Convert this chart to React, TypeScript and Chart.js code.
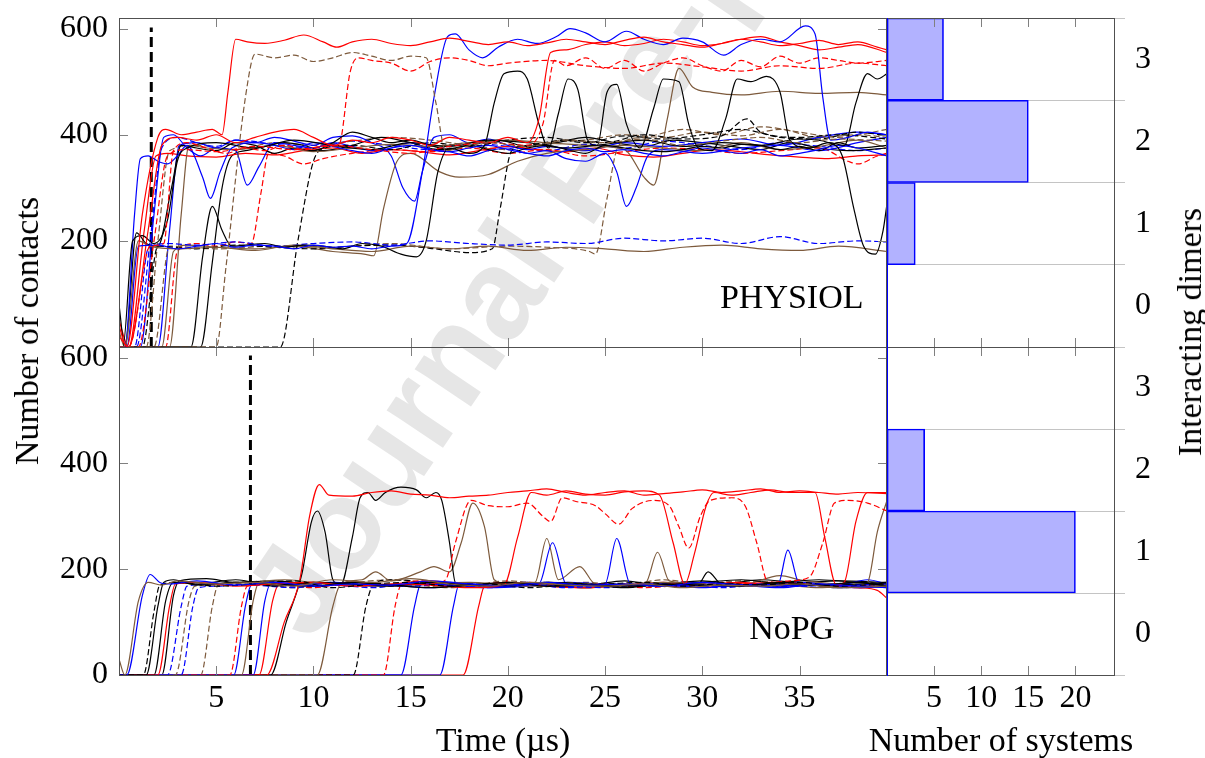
import React, { useEffect, useRef } from "react";
import { Chart, registerables } from "chart.js";
Chart.register(...registerables);

// ---------- axis values ----------
const timeTicks = [5, 10, 15, 20, 25, 30, 35];
const contactTicksTop = [200, 400, 600];
const contactTicksBottom = [0, 200, 400, 600];
const systemTicks = [5, 10, 15, 20];
const dimerLabels = ["3", "2", "1", "0"];
const physiolSystems = [6, 15, 3, 0];
const nopgSystems = [0, 4, 20, 0];
const physiolEquilibration = [1.66, 0, 1.66, 602];
const nopgEquilibration = [6.76, 0, 6.76, 604];

// ---------- PHYSIOL trajectories: [time, contacts, ...] ----------
const physiol01 = [0,40, 0.4,0, 1.2,250, 2.0,395, 2.4,410, 3.2,400, 4.0,405, 4.8,410, 5.3,400, 5.6,480, 6.0,580, 6.6,575, 7.5,572, 8.5,578, 9.5,588, 10.5,575, 11.2,565, 12,575, 13,580, 14,572, 15,568, 16,575, 17,582, 18,576, 19,570, 20,575, 21,568, 22,573, 23,580, 24,575, 25,570, 26,578, 27,584, 28,575, 29,570, 30,565, 31,572, 32,580, 33,575, 34,568, 35,572, 36,578, 37,570, 38,575, 39,565, 39.5,560];
const physiol02 = [0,0, 5.0,0, 5.5,150, 6.5,470, 7.0,552, 8,545, 9,550, 10,538, 11,545, 12,555, 13,548, 14,540, 15,548, 15.8,545, 16.3,460, 16.8,370, 17.5,375, 19,385, 21,378, 23,390, 25,385, 27,392, 29,380, 31,388, 33,395, 35,385, 37,392, 39.5,388];
const physiol03 = [0,0, 0.5,0, 1.6,190, 2.3,195, 2.8,370, 3.5,385, 4.5,375, 5.5,365, 6.5,375, 7.5,370, 8.5,380, 9.5,372, 10.5,378, 11.3,380, 11.9,520, 12.3,545, 13,540, 14,535, 15,520, 16,538, 17,545, 18,540, 19,530, 20,535, 22,540, 24,530, 26,525, 28,535, 30,528, 32,520, 34,530, 36,525, 38,535, 39.5,530];
const physiol04 = [0,0, 0.4,0, 1.0,190, 2,192, 3,185, 4,190, 5,195, 6,188, 7,192, 8,190, 9,185, 10,192, 11,188, 12,190, 13,185, 14,190, 14.8,195, 15.6,330, 16.2,470, 16.9,585, 17.3,590, 18,560, 18.7,545, 19.5,565, 20.5,580, 21.5,572, 22.5,585, 23.2,600, 24,592, 25,575, 26.1,595, 27,580, 28,570, 29,582, 30,575, 31.1,550, 32,570, 33,580, 34,575, 35.3,605, 35.8,590, 36.2,470, 36.6,390, 37.5,395, 38.5,405, 39.5,400];
const physiol05 = [0,20, 0.5,0, 1.5,220, 2.2,380, 3,395, 4,390, 5,400, 6,385, 7,395, 8,405, 9,410, 10,395, 11,380, 12,390, 13,385, 14,395, 15,390, 16,380, 17,395, 18,390, 19,385, 20,395, 21,385, 21.6,430, 22.2,555, 23,560, 24,570, 25,575, 26,568, 27,572, 28,580, 29,575, 30,568, 31,572, 32,580, 33,585, 34,575, 35,568, 36,560, 37,565, 38,570, 39.5,555];
const physiol06 = [0,0, 1.0,0, 1.8,200, 2.5,360, 3.5,372, 5,368, 7,378, 9,372, 11,380, 13,372, 15,365, 17,378, 19,385, 21,380, 21.8,420, 22.4,540, 23,530, 24,545, 25,525, 26,540, 27,520, 28,535, 29,545, 30,530, 31,520, 32,540, 33,528, 34,548, 35,535, 36,545, 37,540, 38,535, 39.5,540];
const physiol07 = [0,0, 3.7,0, 4.3,170, 4.8,265, 5.3,220, 5.8,190, 6.5,192, 7.5,195, 8.5,188, 9.5,192, 10.5,190, 11.5,185, 12.5,195, 13.5,190, 14.5,175, 15.3,170, 15.8,200, 16.4,330, 17,375, 18,365, 18.8,380, 19.3,460, 19.8,515, 20.5,520, 21,505, 21.6,420, 22.1,375, 22.6,440, 23.1,505, 23.6,485, 24.1,390, 24.6,380, 25.1,480, 25.6,495, 26.1,420, 26.8,375, 27.5,450, 28,505, 28.8,500, 29.3,420, 29.8,375, 30.5,370, 31.2,430, 31.8,505, 32.5,500, 33.3,510, 34,480, 34.5,390, 35.5,375, 36.5,385, 37.3,380, 37.9,460, 38.5,515, 39,505, 39.5,515];
const physiol08 = [0,0, 0.2,0, 0.7,200, 1.2,210, 1.8,195, 2.5,240, 3,350, 3.5,375, 5,385, 7,375, 9,390, 11,380, 13,372, 15,385, 17,378, 19,390, 21,385, 23,375, 25,382, 27,390, 29,378, 31,385, 33,380, 35,392, 36.5,385, 37.2,360, 37.8,260, 38.3,190, 38.9,175, 39.3,220, 39.5,270];
const physiol09 = [0,30, 0.3,0, 1.0,200, 1.6,190, 3,185, 5,188, 7,182, 9,192, 11,185, 13,180, 15,190, 17,185, 19,190, 21,182, 23,188, 25,185, 27,180, 29,188, 31,192, 33,185, 35,182, 37,190, 39.5,180];
const physiol10 = [0,0, 0.8,0, 1.5,185, 2.5,195, 4,192, 6,198, 8,190, 10,195, 12,198, 14,192, 16,200, 18,195, 20,192, 22,198, 24,195, 26,205, 28,200, 30,205, 32,195, 34,208, 36,195, 38,200, 39.5,198];
const physiol11 = [0,0, 0.3,0, 0.8,250, 1.1,355, 1.5,360, 2,350, 2.5,345, 3,360, 3.5,380, 4.3,320, 4.7,280, 5.2,330, 5.8,375, 7,385, 8,380, 9,372, 10,385, 11,378, 12,370, 13,365, 14,375, 15,380, 16,372, 17,368, 18,375, 19,380, 20,372, 21,365, 22,360, 23,370, 24,375, 25,368, 26,372, 27,365, 28,360, 29,368, 30,375, 31,370, 32,365, 33,372, 34,360, 35,365, 36,372, 37,380, 38,375, 39.5,360];
const physiol12 = [0,80, 0.3,0, 0.9,215, 1.4,195, 2.0,190, 2.7,300, 3.2,380, 4,375, 5,370, 6,385, 7,380, 8,365, 9,375, 10,370, 11,385, 12,405, 13,395, 14,385, 15,390, 16,380, 17,372, 18,380, 19,372, 20,365, 21,375, 22,380, 23,372, 24,365, 25,380, 26,375, 27,370, 28,368, 29,372, 30,378, 31,375, 32,382, 33,380, 34,372, 35,378, 36,370, 37,385, 38,375, 39.5,380];
const physiol13 = [0,0, 2.6,0, 3.2,250, 3.6,380, 4.5,375, 6,372, 8,380, 10,368, 12,375, 14,382, 16,378, 18,385, 20,390, 22,385, 24,380, 26,372, 27,320, 27.5,305, 28.2,430, 28.8,525, 29.5,490, 30.5,480, 32,475, 34,482, 36,478, 38,480, 39.5,475];
const physiol14 = [0,0, 8.3,0, 9.2,200, 10.0,350, 10.6,375, 12,380, 14,372, 16,385, 18,378, 20,390, 22,395, 24,385, 26,398, 28,392, 30,400, 32,410, 34,395, 36,392, 38,405, 39.5,398];
const physiol15 = [0,0, 1.2,0, 2.0,190, 4,185, 6,192, 8,188, 10,185, 12,190, 14,192, 16,186, 18,178, 19.2,185, 19.6,260, 20.2,370, 21,380, 23,390, 25,385, 27,400, 29,392, 31,398, 32.3,430, 33,405, 35,395, 37,400, 39.5,392];
const physiol16 = [0,0, 1.8,0, 2.6,190, 5,185, 8,190, 11,188, 14,195, 17,185, 20,190, 22,188, 24.2,180, 24.5,175, 25.1,280, 25.7,380, 27,395, 29,410, 31,400, 33,415, 35,405, 37,395, 39.5,410];
const physiol17 = [0,0, 2.2,0, 2.8,180, 3.5,192, 5,188, 7,185, 9,190, 11,180, 12.6,175, 13.1,172, 13.6,260, 14.3,350, 15,365, 16.5,330, 17.5,320, 19,325, 20.5,350, 22,365, 24,372, 26,380, 28,375, 30,370, 32,385, 34,372, 36,378, 38,390, 39.5,375];
const physiol18 = [0,0, 1.1,0, 1.8,250, 2.3,395, 2.8,400, 3.5,375, 4.2,360, 5,375, 6,370, 6.6,305, 7.2,340, 8,385, 9,380, 10,375, 11,385, 12,378, 13,370, 14,375, 15,385, 16,372, 17,368, 18,360, 19,370, 20,375, 21,365, 22,370, 23,355, 24,350, 25,365, 25.6,330, 26.1,265, 26.6,300, 27.2,360, 28,372, 30,365, 32,375, 34,380, 36,370, 38,385, 39.5,395];
const physiol19 = [0,0, 2.0,0, 2.6,220, 3.1,380, 4,385, 5,375, 6,390, 7,385, 8,395, 9,388, 10,380, 11,395, 12,398, 13,385, 14,360, 14.6,300, 15.2,275, 15.6,330, 16.2,395, 17,400, 18,385, 19,392, 20,380, 21,372, 22,378, 24,370, 26,385, 28,378, 30,385, 32,392, 34,380, 36,395, 38,405, 39.5,400];
const physiol20 = [0,0, 2.4,0, 3.0,180, 4,195, 5,190, 6,198, 6.8,195, 7.3,290, 7.7,365, 8.5,360, 9.5,345, 10.5,355, 12,365, 14,372, 16,368, 18,375, 20,365, 22,372, 24,360, 26,368, 28,375, 30,372, 32,365, 34,370, 36,375, 37.5,350, 38,345, 39,360, 39.5,365];
const physiol21 = [0,50, 0.5,0, 1.3,220, 1.9,360, 2.5,365, 3.5,360, 5,358, 6.5,365, 8,362, 9.5,370, 11,375, 12.5,365, 14,372, 15.5,368, 17,362, 18.5,370, 20,378, 21.5,372, 23,368, 24.5,375, 26,362, 27.5,358, 29,365, 30.5,372, 32,368, 33.5,362, 35,358, 36.5,355, 38,360, 39.5,362];
const physiol22 = [0,0, 4.2,0, 4.8,160, 5.3,300, 5.8,360, 6.5,370, 7.5,378, 8.5,385, 9.5,380, 10.5,370, 12,380, 13.5,395, 15,385, 16.5,372, 18,380, 19.5,390, 21,378, 22.5,385, 24,395, 25.5,385, 27,378, 28.5,390, 30,385, 31.5,378, 33,372, 34.5,385, 36,375, 37.5,370, 39.5,375];
const physiol23 = [0,0, 1.4,0, 2.0,200, 2.6,370, 4,380, 6,372, 8,385, 10,380, 12,388, 14,395, 16,390, 18,380, 20,372, 22,385, 24,390, 26,400, 28,395, 30,405, 32,398, 34,410, 36,395, 38,400, 39.5,395];
const physiol24 = [0,0, 0.9,0, 1.6,200, 2.2,375, 3,395, 4,385, 5,378, 6,390, 8,382, 10,375, 12,388, 14,380, 16,372, 18,385, 20,378, 22,370, 24,382, 26,375, 28,388, 30,380, 32,372, 34,385, 36,378, 38,370, 39.5,375];

// ---------- NoPG trajectories ----------
const nopg01 = [0,30, 0.3,0, 1.0,140, 1.5,175, 2.2,170, 3,178, 5,172, 7,175, 9,168, 11,180, 13,175, 15,182, 17,172, 19,168, 21,175, 23,170, 25,168, 27,172, 29,165, 31,170, 33,168, 35,172, 37,165, 39.5,168];
const nopg02 = [0,0, 0.4,0, 1.2,150, 1.6,190, 2.1,175, 2.6,172, 4,178, 6,170, 8,175, 10,168, 12,172, 14,170, 16,178, 18,172, 20,168, 22,175, 24,170, 26,172, 28,168, 30,175, 32,170, 34,165, 36,172, 38,168, 39.5,165];
const nopg03 = [0,0, 1.25,0, 1.8,120, 2.1,170, 3,175, 5,168, 7,172, 9,178, 11,165, 13,172, 15,175, 17,168, 19,172, 21,165, 23,170, 25,172, 27,175, 29,168, 31,172, 33,170, 35,175, 37,168, 39.5,172];
const nopg04 = [0,0, 1.4,0, 2.0,130, 2.3,175, 2.8,180, 4,170, 6,175, 8,172, 10,168, 12,175, 14,170, 16,165, 18,170, 20,175, 22,168, 24,170, 26,165, 28,172, 30,170, 32,168, 34,175, 36,170, 38,175, 39.5,168];
const nopg05 = [0,0, 2.0,0, 2.6,130, 2.9,172, 4,175, 6,168, 8,172, 10,175, 12,168, 14,172, 16,170, 18,165, 19.8,170, 20.5,260, 21.2,345, 22,340, 23,348, 24,342, 25,340, 26,346, 27,348, 27.8,340, 28.5,250, 29.1,172, 29.6,230, 30.2,320, 30.6,345, 31.5,340, 32.5,345, 33.5,350, 34.5,345, 35.8,345, 36.3,260, 36.9,170, 37.3,175, 37.9,290, 38.5,345, 39.5,345];
const nopg06 = [0,0, 1.8,0, 2.4,140, 2.8,175, 4,172, 6,180, 8,168, 10,175, 12,172, 14,168, 16,175, 18,170, 20,168, 22,175, 24,172, 26,168, 28,170, 30,175, 32,180, 34,172, 36,170, 38,172, 39.5,175];
const nopg07 = [0,0, 2.5,0, 3.2,130, 3.5,168, 5,172, 7,170, 9,165, 11,175, 13,170, 15,168, 17,172, 19,165, 21,170, 23,168, 25,165, 27,172, 29,170, 31,168, 33,172, 35,168, 37,170, 39.5,172];
const nopg08 = [0,0, 2.9,0, 3.6,140, 3.9,168, 5,170, 7,175, 9,165, 11,172, 13,168, 15,170, 17,165, 19,172, 21,168, 23,175, 25,170, 27,168, 29,172, 31,170, 33,168, 35,172, 37,165, 39.5,170];
const nopg09 = [0,0, 3.2,0, 3.8,130, 4.1,165, 5,168, 7,172, 9,168, 11,170, 13,165, 15,172, 17,170, 19,168, 21,172, 23,165, 25,170, 27,168, 29,172, 31,165, 33,170, 35,168, 37,172, 39.5,168];
const nopg10 = [0,0, 5.7,0, 6.3,130, 6.6,168, 8,172, 10,165, 12,175, 14,170, 16,172, 16.8,180, 17.3,250, 18.1,330, 19,320, 20,318, 21,325, 21.8,300, 22.2,290, 22.8,335, 23.5,328, 24.5,320, 25,305, 25.7,285, 26.4,315, 27.5,330, 28.3,320, 28.8,280, 29.3,240, 29.9,300, 30.4,330, 31.5,335, 32.2,320, 32.8,250, 33.4,175, 34.5,178, 35.5,185, 36.2,250, 36.8,325, 37.5,330, 38.5,325, 39.5,310];
const nopg11 = [0,0, 5.9,0, 6.5,130, 6.8,170, 8,175, 10,168, 12,172, 14,170, 16,165, 18,172, 20,170, 22,175, 24,168, 26,170, 28,172, 30,165, 32,170, 34,168, 36,172, 38,165, 39.5,168];
const nopg12 = [0,0, 6.3,0, 6.9,140, 7.2,175, 8.5,180, 10,175, 12,170, 14,168, 16,172, 18,175, 20,170, 22,168, 24,172, 26,170, 28,175, 30,172, 32,168, 34,170, 36,165, 38,172, 39.5,170];
const nopg13 = [0,0, 6.9,0, 7.5,140, 7.8,172, 9,170, 11,175, 13,168, 15,172, 17,170, 19,165, 21.6,172, 22.3,250, 23.0,172, 24,170, 25.0,172, 25.6,258, 26.3,172, 28,168, 30,172, 32,170, 33.9,172, 34.4,236, 35.0,172, 36,170, 38,168, 39.5,165];
const nopg14 = [0,0, 7.2,0, 7.9,140, 8.2,170, 10,175, 12,168, 14,172, 16,178, 18,170, 20,175, 22,168, 24,165, 26,170, 28,175, 30,168, 32,172, 34,175, 36,170, 38,165, 39,160, 39.5,145];
const nopg15 = [0,0, 7.6,0, 8.5,100, 9.3,180, 9.8,300, 10.3,360, 10.8,340, 12,338, 13,345, 14,348, 15,342, 16,340, 17,335, 18,338, 19,340, 20,345, 21,348, 22,352, 23,345, 24,340, 25,345, 26,348, 27,340, 28,343, 29,346, 30,350, 31,345, 32,348, 33,352, 34,345, 35,348, 36,345, 37,342, 38,345, 39.5,343];
const nopg16 = [0,0, 7.8,0, 8.6,100, 9.4,190, 9.9,290, 10.2,310, 10.6,270, 11.0,180, 11.4,170, 12.0,260, 12.4,335, 12.8,345, 13.2,330, 13.7,345, 14.5,355, 15.3,350, 15.8,335, 16.3,345, 16.6,330, 17.0,250, 17.3,175, 18,170, 20,172, 22,168, 24,165, 26,170, 28,172, 30,178, 32,170, 34,175, 36,180, 38,175, 39.5,172];
const nopg17 = [0,0, 10.2,0, 11.0,130, 11.4,172, 12.5,180, 13.2,195, 14,178, 15.5,195, 16.2,205, 17,195, 17.6,250, 18.2,325, 18.8,280, 19.3,180, 20,172, 21.4,175, 22,258, 22.6,180, 23.7,205, 24.5,172, 26,170, 27.1,175, 27.7,232, 28.3,178, 30,172, 32,170, 34,188, 35,180, 36,175, 38,170, 38.5,175, 39.0,270, 39.5,330];
const nopg18 = [0,0, 12.05,0, 12.7,130, 13.1,172, 14,180, 15,178, 16,170, 18,172, 20,168, 22,175, 24,170, 26,172, 28,168, 30,175, 32,172, 34,168, 36,170, 38,175, 39.5,172];
const nopg19 = [0,0, 13.6,0, 14.2,130, 14.5,170, 15.5,178, 17,172, 19,168, 21,175, 23,170, 25,172, 27,165, 29,170, 31,175, 33,170, 35,172, 37,168, 39.5,172];
const nopg20 = [0,0, 14.5,0, 15.2,130, 15.5,170, 17,175, 19,170, 21,168, 23,175, 25,172, 27,170, 29,168, 31,172, 33,170, 35,175, 37,170, 38.5,180, 39.5,172];
const nopg21 = [0,0, 16.5,0, 17.2,130, 17.5,172, 19,170, 21,175, 23,168, 25,172, 27,170, 29,175, 31,168, 33,170, 35,172, 37,165, 39.5,170];
const nopg22 = [0,0, 17.7,0, 18.5,130, 18.8,168, 20,172, 22,170, 24,165, 26,172, 28,168, 30,170, 32,175, 34,168, 36,172, 38,165, 39.5,168];
const nopg23 = [0,0, 2.2,0, 2.8,150, 3.1,178, 4.5,182, 6,175, 8,178, 10,172, 12,175, 14,170, 16,172, 18,168, 20,175, 22,172, 24,170, 26,178, 28,168, 29.8,172, 30.3,195, 31,172, 33,180, 35,175, 37,178, 39.5,175];
const nopg24 = [0,0, 4.2,0, 4.8,130, 5.1,170, 6,175, 8,178, 10,172, 12,175, 14,180, 16,172, 18,170, 20,178, 22,172, 24,175, 26,170, 28,180, 30,172, 32,178, 34,175, 36,170, 38,175, 39.5,172];

const physiolSeries = [physiol01, physiol02, physiol03, physiol04, physiol05, physiol06, physiol07, physiol08, physiol09, physiol10, physiol11, physiol12, physiol13, physiol14, physiol15, physiol16, physiol17, physiol18, physiol19, physiol20, physiol21, physiol22, physiol23, physiol24];
const nopgSeries = [nopg01, nopg02, nopg03, nopg04, nopg05, nopg06, nopg07, nopg08, nopg09, nopg10, nopg11, nopg12, nopg13, nopg14, nopg15, nopg16, nopg17, nopg18, nopg19, nopg20, nopg21, nopg22, nopg23, nopg24];

// ---------- styles (colour + dash code) ----------
const physiolKinds = ["r-", "n--", "r--", "b-", "r-", "r--", "k-", "k-", "n-", "b--", "b-", "k-", "n-", "k--", "k--", "n--", "n-", "b-", "b-", "r--", "r-", "k-", "n--", "b--"];
const nopgKinds = ["n-", "b-", "k--", "k-", "r-", "k-", "b--", "n--", "b--", "r--", "b-", "n-", "b-", "r-", "r-", "k-", "n-", "k--", "r--", "b-", "b-", "r-", "k-", "n--"];
const COLORS: Record<string, string> = { r: "#ff0000", b: "#0000ff", k: "#000000", n: "#7d5a3c" };

const FONT = "'Liberation Serif', 'Times New Roman', serif";
Chart.defaults.font.family = FONT;
Chart.defaults.font.size = 32;
Chart.defaults.color = "#000";
const TITLE_SIZE = 34;

const W = 1205, H = 758;
const PL = 119, PR = 887, HR = 1115, TOP = 18, MID = 347, BOT = 675;

function toPoints(a: number[]) {
  const p: { x: number; y: number }[] = [];
  for (let i = 0; i < a.length; i += 2) p.push({ x: a[i], y: a[i + 1] });
  return p;
}

function fixAxis(size: number, horizontal: boolean) {
  return (s: any) => {
    if (horizontal) s.height = size; else s.width = size;
    s.paddingTop = 0; s.paddingBottom = 0; s.paddingLeft = 0; s.paddingRight = 0;
  };
}

function setTicks(values: number[]) {
  return (s: any) => { s.ticks = values.map((v) => ({ value: v })); };
}

function framePlugin(o: { xTicks: number[]; yTicks: number[]; leftColor?: string; label?: string; labelAt?: number[]; watermark?: boolean; xTitle?: string }) {
  return {
    id: "frame",
    beforeDraw(chart: any) {
      if (!o.watermark) return;
      const ctx = chart.ctx;
      ctx.save();
      ctx.translate(311, 644);
      ctx.rotate((-56.05 * Math.PI) / 180);
      ctx.font = "bold 128px 'Liberation Sans', Arial, sans-serif";
      ctx.fillStyle = "#e6e6e6";
      ctx.textBaseline = "alphabetic";
      ctx.fillText("Journal Pre-proof", 0, 0);
      ctx.restore();
    },
    afterDatasetsDraw(chart: any) {
      const { ctx, chartArea: a } = chart;
      const xs = chart.scales.x, ys = chart.scales.y;
      const L = 9;
      ctx.save();
      ctx.lineWidth = 1;
      ctx.strokeStyle = "#808080";
      ctx.beginPath();
      o.xTicks.forEach((v) => {
        const px = Math.round(xs.getPixelForValue(v)) + 0.5;
        ctx.moveTo(px, a.top); ctx.lineTo(px, a.top + L);
        ctx.moveTo(px, a.bottom); ctx.lineTo(px, a.bottom - L);
      });
      o.yTicks.forEach((v) => {
        const py = Math.round(ys.getPixelForValue(v)) + 0.5;
        ctx.moveTo(a.left, py); ctx.lineTo(a.left + L, py);
        ctx.moveTo(a.right, py); ctx.lineTo(a.right - L, py);
      });
      ctx.stroke();
      ctx.strokeStyle = "#505050";
      ctx.strokeRect(a.left + 0.5, a.top + 0.5, a.right - a.left - 1, a.bottom - a.top);
      if (o.leftColor) {
        ctx.strokeStyle = o.leftColor;
        ctx.beginPath();
        ctx.moveTo(a.left + 0.5, a.top); ctx.lineTo(a.left + 0.5, a.bottom + 1);
        ctx.stroke();
      }
      ctx.fillStyle = "#000";
      ctx.textAlign = "center";
      ctx.textBaseline = "middle";
      ctx.font = `${TITLE_SIZE}px ${FONT}`;
      if (o.label && o.labelAt) {
        ctx.fillText(o.label, xs.getPixelForValue(o.labelAt[0]), ys.getPixelForValue(o.labelAt[1]));
      }
      if (o.xTitle) {
        ctx.fillText(o.xTitle, (a.left + a.right) / 2, 742);
      }
      ctx.restore();
    },
  };
}

function lineConfig(series: number[][], kinds: string[], cutoff: number[], top: boolean): any {
  const datasets: any[] = series.map((s, i) => {
    const k = kinds[i];
    return {
      data: toPoints(s),
      borderColor: COLORS[k[0]],
      borderWidth: 1.2,
      borderDash: k.length > 2 ? [6, 3] : [],
      pointRadius: 0,
      fill: false,
      cubicInterpolationMode: "monotone",
    };
  });
  datasets.push({ data: toPoints(cutoff), borderColor: "#000", borderWidth: 3, borderDash: [10, 5], pointRadius: 0, fill: false });
  const yTicks = top ? contactTicksTop : contactTicksBottom;
  return {
    type: "line",
    data: { datasets },
    options: {
      animation: false,
      responsive: false,
      events: [],
      layout: { padding: { left: 0, right: W - PR, top: top ? TOP : MID, bottom: top ? H - MID : 0 } },
      plugins: { legend: { display: false }, tooltip: { enabled: false } },
      scales: {
        x: {
          type: "linear", min: 0, max: 39.5, display: !top,
          grid: { display: false, drawTicks: false }, border: { display: false },
          ticks: { padding: 4, autoSkip: false, maxRotation: 0 },
          afterBuildTicks: setTicks(timeTicks),
          title: { display: false },
          afterFit: fixAxis(top ? 0 : H - BOT, true),
        },
        y: {
          type: "linear", min: 0, max: 620,
          grid: { display: false, drawTicks: false }, border: { display: false },
          ticks: { padding: 11, autoSkip: false },
          afterBuildTicks: setTicks(yTicks),
          afterFit: fixAxis(PL, false),
        },
      },
    },
    plugins: [framePlugin({ xTicks: timeTicks, yTicks, label: top ? "PHYSIOL" : "NoPG", labelAt: top ? [34.6, 90] : [34.6, 85], watermark: top, xTitle: top ? undefined : "Time (\u00b5s)" })],
  };
}

function histConfig(values: number[], top: boolean): any {
  return {
    type: "bar",
    data: {
      labels: dimerLabels,
      datasets: [{ data: values, backgroundColor: "rgba(0,0,255,0.3)", borderColor: "#0000ff", borderWidth: 1, borderSkipped: false, barPercentage: 1, categoryPercentage: 1 }],
    },
    options: {
      indexAxis: "y",
      animation: false,
      responsive: false,
      events: [],
      layout: { padding: { left: PR, right: 0, top: top ? TOP : MID, bottom: top ? H - MID : 0 } },
      plugins: { legend: { display: false }, tooltip: { enabled: false } },
      scales: {
        x: {
          type: "linear", min: 0, max: 24.2, display: !top,
          grid: { display: false, drawTicks: false }, border: { display: false },
          ticks: { padding: 4, autoSkip: false, maxRotation: 0 },
          afterBuildTicks: setTicks(systemTicks),
          title: { display: false },
          afterFit: fixAxis(top ? 0 : H - BOT, true),
        },
        y: {
          type: "category", position: "right",
          grid: { display: true, offset: true, color: "#c4c4c4", drawTicks: true, tickLength: 10 },
          border: { display: false },
          ticks: { padding: 10, autoSkip: false },
          afterFit: fixAxis(W - HR, false),
        },
      },
    },
    plugins: [framePlugin({ xTicks: systemTicks, yTicks: [], leftColor: "#0000ff", xTitle: top ? undefined : "Number of systems" })],
  };
}

const canvasStyle: React.CSSProperties = { position: "absolute", left: 0, top: 0, width: W, height: H };

export default function App() {
  const r1 = useRef<HTMLCanvasElement>(null);
  const r2 = useRef<HTMLCanvasElement>(null);
  const r3 = useRef<HTMLCanvasElement>(null);
  const r4 = useRef<HTMLCanvasElement>(null);
  useEffect(() => {
    const charts = [
      new Chart(r1.current!, lineConfig(physiolSeries, physiolKinds, physiolEquilibration, true)),
      new Chart(r2.current!, lineConfig(nopgSeries, nopgKinds, nopgEquilibration, false)),
      new Chart(r3.current!, histConfig(physiolSystems, true)),
      new Chart(r4.current!, histConfig(nopgSystems, false)),
    ];
    return () => charts.forEach((c) => c.destroy());
  }, []);
  const vTitle = (x: number, y: number): React.CSSProperties => ({
    position: "absolute", left: x, top: y, transform: "translate(-50%, -50%) rotate(-90deg)",
    font: `${TITLE_SIZE}px ${FONT}`, lineHeight: 1, whiteSpace: "nowrap", color: "#000",
  });
  return (
    <div style={{ position: "fixed", left: 0, top: 0, width: W, height: H, background: "#fff", overflow: "hidden" }}>
      <canvas ref={r1} width={W} height={H} style={canvasStyle} />
      <canvas ref={r2} width={W} height={H} style={canvasStyle} />
      <canvas ref={r3} width={W} height={H} style={canvasStyle} />
      <canvas ref={r4} width={W} height={H} style={canvasStyle} />
      <div style={vTitle(27, 331)}>Number of contacts</div>
      <div style={vTitle(1190, 332)}>Interacting dimers</div>
    </div>
  );
}
